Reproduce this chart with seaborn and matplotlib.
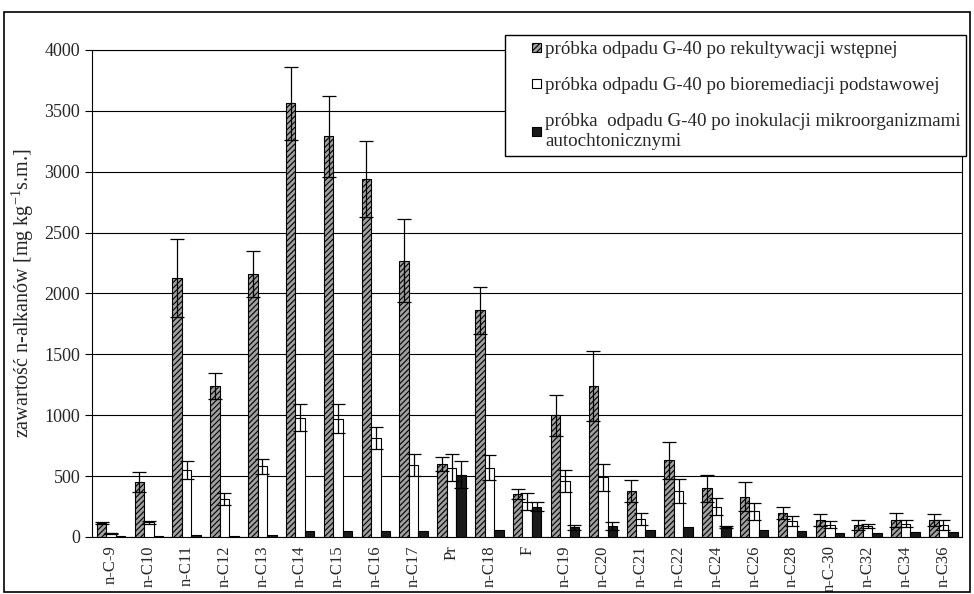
import matplotlib
matplotlib.use('Agg')
import matplotlib.pyplot as plt
from matplotlib.patches import Rectangle
from matplotlib.legend_handler import HandlerPatch
import seaborn as sns
import numpy as np
import pandas as pd

# categories (n-alkanes + pristane / phytane)
categories = ['n-C-9', 'n-C10', 'n-C11', 'n-C12', 'n-C13', 'n-C14', 'n-C15', 'n-C16',
              'n-C17', 'Pr', 'n-C18', 'F', 'n-C19', 'n-C20', 'n-C21', 'n-C22', 'n-C24',
              'n-C26', 'n-C28', 'n-C-30', 'n-C32', 'n-C34', 'n-C36']

series_names = ['próbka odpadu G-40 po rekultywacji wstępnej',
                'próbka odpadu G-40 po bioremediacji podstawowej',
                'próbka  odpadu G-40 po inokulacji mikroorganizmami\nautochtonicznymi']

# mean values [mg/kg s.m.]
rekultywacja = [115, 450, 2130, 1240, 2160, 3560, 3290, 2940, 2270, 600, 1860, 350,
                1000, 1240, 380, 630, 400, 330, 200, 140, 100, 140, 140]
bioremediacja = [30, 120, 550, 310, 580, 980, 970, 810, 590, 570, 570, 290,
                 460, 490, 150, 380, 250, 210, 130, 100, 90, 110, 100]
inokulacja = [5, 5, 20, 10, 20, 50, 50, 50, 50, 510, 60, 250,
              80, 90, 60, 80, 80, 60, 50, 30, 30, 40, 40]

# standard deviations
sd_rekultywacja = [10, 80, 320, 110, 190, 300, 330, 310, 340, 60, 190, 40,
                   170, 290, 90, 150, 110, 120, 50, 50, 40, 60, 50]
sd_bioremediacja = [5, 10, 70, 50, 60, 110, 120, 90, 90, 110, 100, 70,
                    90, 110, 50, 100, 70, 70, 40, 30, 20, 30, 40]
sd_inokulacja = [0, 0, 0, 0, 0, 0, 0, 0, 0, 110, 0, 40,
                 20, 30, 0, 0, 10, 0, 0, 0, 0, 0, 0]

df = pd.DataFrame({
    'kategoria': categories * 3,
    'seria': np.repeat(series_names, len(categories)),
    'wartosc': rekultywacja + bioremediacja + inokulacja,
    'sd': sd_rekultywacja + sd_bioremediacja + sd_inokulacja,
})

sns.set_style('white')
plt.rcParams['font.family'] = ['Liberation Serif', 'DejaVu Serif']
plt.rcParams['mathtext.fontset'] = 'custom'
plt.rcParams['mathtext.rm'] = 'Liberation Serif'
plt.rcParams['hatch.linewidth'] = 0.8

fig = plt.figure(figsize=(9.74, 5.94), dpi=100)
ax = fig.add_axes([0.0945, 0.096, 0.8935, 0.82])

palette = ['#a0a0a0', 'white', '#1a1a1a']
hatches = ['//////', '', '']
sns.barplot(data=df, x='kategoria', y='wartosc', hue='seria', palette=palette,
            errorbar=None, width=0.75, edgecolor='black', linewidth=0.8,
            ax=ax, zorder=3, legend=False)

# hatching for the first series, error bars for all
for cont, name, h in zip(ax.containers, series_names, hatches):
    sd = df.loc[df['seria'] == name, 'sd'].values
    vals = df.loc[df['seria'] == name, 'wartosc'].values
    xs = [p.get_x() + p.get_width() / 2 for p in cont.patches]
    for p in cont.patches:
        p.set_hatch(h)
    mask = sd > 0
    ax.errorbar(np.array(xs)[mask], vals[mask], yerr=sd[mask], fmt='none',
                ecolor='black', elinewidth=0.9, capsize=5, capthick=0.9, zorder=4)

ax.set_ylim(0, 4000)
ax.set_xlim(-0.5, len(categories) - 0.5)
ax.set_yticks(np.arange(0, 4001, 500))
ax.yaxis.grid(True, color='black', linewidth=0.8)
ax.set_axisbelow(True)
for s in ax.spines.values():
    s.set_color('black')
    s.set_linewidth(0.8)

ax.set_xticks(range(len(categories)))
ax.set_xticklabels(categories, rotation=90, fontsize=12)
ax.tick_params(axis='x', which='major', length=0, pad=6)
ax.set_xticks(np.arange(-0.5, len(categories), 1), minor=True)
ax.tick_params(axis='x', which='minor', length=4, color='black', direction='out')
ax.tick_params(axis='y', length=5, color='black', direction='out', labelsize=13, left=True)
ax.set_xlabel('')
ax.set_ylabel(r'zawartość n-alkanów [mg kg$^{\mathregular{-1}}$s.m.]', fontsize=14.5,
              labelpad=6)


# small square legend marker placed at the right end of the handle box
def square_marker(legend, orig_handle, xdescent, ydescent, width, height, fontsize):
    s = 0.48 * fontsize
    return Rectangle((-xdescent + width - s, -ydescent + (height - s) / 2), s, s)


handles = [Rectangle((0, 0), 1, 1, facecolor=c, edgecolor='black', hatch=h, linewidth=0.8)
           for c, h in zip(palette, hatches)]
leg = ax.legend(handles, series_names, loc='upper right',
                bbox_to_anchor=(1.0046, 1.031), borderaxespad=0,
                fontsize=13.7, frameon=True, fancybox=False, edgecolor='black',
                framealpha=1, handlelength=1.6, handleheight=0.7, handletextpad=0.2,
                labelspacing=1.0, borderpad=0.3,
                handler_map={Rectangle: HandlerPatch(patch_func=square_marker)})
leg.get_frame().set_linewidth(1.0)
leg.set_zorder(10)
for t in leg.get_texts():
    t.set_linespacing(1.2)

# outer frame of the chart
fig.add_artist(Rectangle((4 / 974, 2 / 594), 966 / 974, 580 / 594,
                         transform=fig.transFigure, fill=False,
                         edgecolor='black', linewidth=1.2))

plt.savefig('out.png', dpi=100)
